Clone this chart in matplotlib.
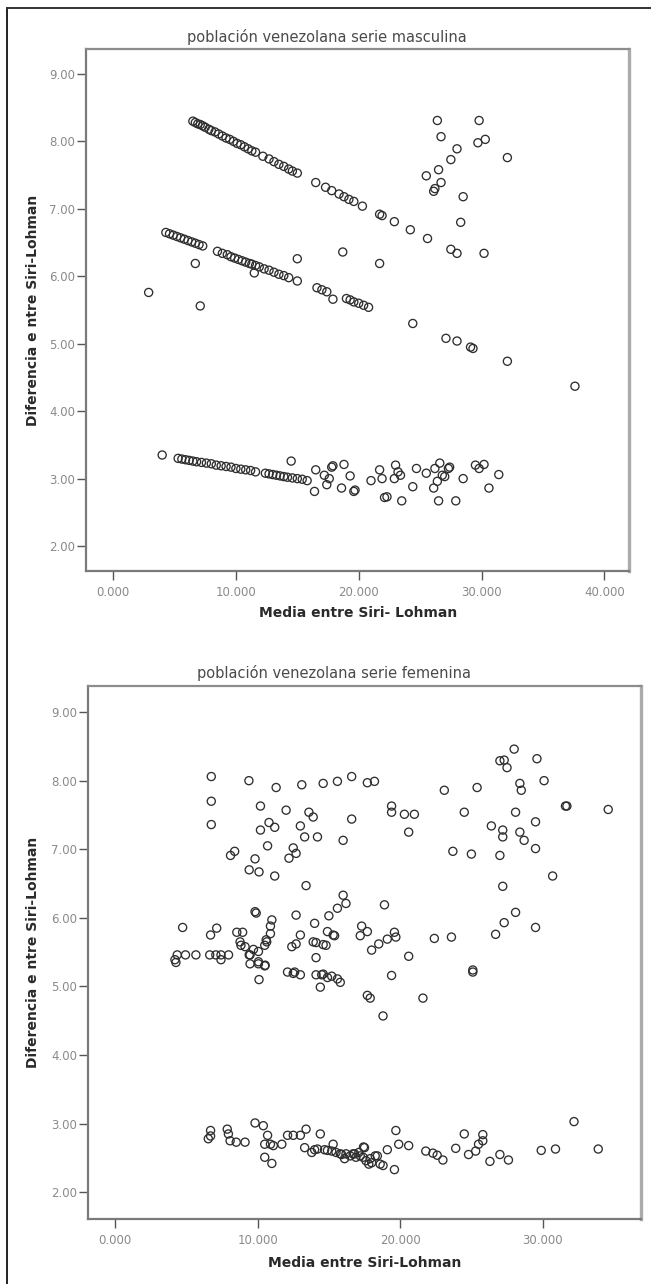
import matplotlib
matplotlib.use("Agg")
import matplotlib.pyplot as plt
from matplotlib.lines import Line2D
from matplotlib.ticker import FormatStrFormatter

# ---------------- DATA : serie masculina ----------------
m_upper_x = [6.5, 6.7, 6.9, 7.1, 7.3, 7.5, 7.8, 8.0, 8.3, 8.6, 8.9, 9.2, 9.5, 9.8, 10.1, 10.4,
             10.7, 11.0, 11.3, 11.6, 12.2, 12.7, 13.1, 13.5, 13.9, 14.3, 14.6, 15.0, 16.5, 17.3,
             17.8, 18.4, 18.8, 19.2, 19.6, 20.3, 21.7, 21.9, 22.9, 24.2, 25.6]
m_upper_y = [8.30, 8.28, 8.26, 8.25, 8.23, 8.21, 8.18, 8.16, 8.14, 8.11, 8.08, 8.05, 8.03, 8.00,
             7.97, 7.95, 7.92, 7.89, 7.86, 7.84, 7.78, 7.74, 7.70, 7.66, 7.63, 7.59, 7.56, 7.53,
             7.39, 7.32, 7.27, 7.22, 7.18, 7.14, 7.11, 7.04, 6.92, 6.90, 6.81, 6.69, 6.56]

m_mid_x = [4.3, 4.6, 4.9, 5.2, 5.5, 5.8, 6.1, 6.4, 6.7, 7.0, 7.3, 8.5, 8.9, 9.3, 9.6, 9.9, 10.2,
           10.5, 10.8, 11.1, 11.3, 11.6, 11.9, 12.3, 12.7, 13.1, 13.5, 13.9, 14.3, 15.0, 16.6,
           17.0, 17.4, 17.9, 19.0, 19.3, 19.6, 20.0, 20.4, 20.8, 24.4, 27.1, 28.0, 29.1, 29.3,
           32.1, 37.6]
m_mid_y = [6.65, 6.63, 6.61, 6.59, 6.57, 6.55, 6.53, 6.51, 6.49, 6.47, 6.45, 6.37, 6.34, 6.32,
           6.29, 6.27, 6.25, 6.23, 6.21, 6.19, 6.18, 6.16, 6.14, 6.11, 6.09, 6.06, 6.03, 6.01,
           5.98, 5.93, 5.83, 5.80, 5.77, 5.66, 5.67, 5.65, 5.62, 5.60, 5.57, 5.54, 5.30, 5.08,
           5.04, 4.95, 4.93, 4.74, 4.37]

m_low_x = [4.0, 5.3, 5.6, 5.9, 6.2, 6.5, 6.8, 7.2, 7.6, 8.0, 8.4, 8.8, 9.2, 9.6, 10.0, 10.4,
           10.8, 11.2, 11.6, 12.4, 12.7, 13.0, 13.3, 13.6, 13.9, 14.2, 14.6, 15.0, 15.4, 15.8]
m_low_y = [3.35, 3.30, 3.29, 3.28, 3.27, 3.26, 3.25, 3.24, 3.23, 3.22, 3.20, 3.19, 3.18, 3.17,
           3.15, 3.14, 3.13, 3.12, 3.10, 3.08, 3.07, 3.06, 3.05, 3.04, 3.03, 3.02, 3.01, 3.00,
           2.99, 2.97]

m_scatter_x = [2.9, 6.7, 7.1, 15.0, 18.7, 21.7, 26.4, 29.8, 26.7, 29.7, 30.3, 28.0, 27.5, 32.1,
               25.5, 26.5, 26.7, 26.1, 26.2, 28.5, 28.3, 27.5, 28.0, 30.2, 11.5,
               14.5, 16.5, 16.4, 17.2, 17.6, 17.4, 17.8, 17.9, 18.8, 18.6, 19.3, 19.6, 19.7,
               21.0, 21.7, 21.9, 22.1, 22.3, 22.9, 23.0, 23.2, 23.4, 23.5, 24.4, 24.7, 25.5,
               26.1, 26.2, 26.5, 26.6, 26.4, 26.8, 27.0, 27.3, 27.4, 27.9, 28.5, 29.5, 29.8,
               30.2, 30.6, 31.4]
m_scatter_y = [5.76, 6.19, 5.56, 6.26, 6.36, 6.19, 8.31, 8.31, 8.07, 7.98, 8.03, 7.89, 7.73, 7.76,
               7.49, 7.58, 7.39, 7.26, 7.30, 7.18, 6.80, 6.40, 6.34, 6.34, 6.05,
               3.26, 3.13, 2.81, 3.05, 3.00, 2.91, 3.17, 3.19, 3.21, 2.86, 3.04, 2.81, 2.83,
               2.97, 3.13, 3.00, 2.72, 2.73, 3.00, 3.20, 3.10, 3.05, 2.67, 2.88, 3.15, 3.08,
               2.86, 3.15, 2.67, 3.23, 2.96, 3.05, 3.03, 3.15, 3.17, 2.67, 3.00, 3.20, 3.15,
               3.21, 2.86, 3.06]

# ---------------- DATA : serie femenina ----------------
f_upper_x = [6.75, 6.75, 6.75, 9.39, 11.3, 13.1, 14.6, 15.6, 16.6, 17.7, 18.2, 10.2, 12.0, 13.6,
             13.9, 16.6, 10.8, 10.2, 11.2, 13.0, 13.3, 14.2, 16.0, 10.7, 12.5, 12.7, 12.2, 8.10,
             8.39, 9.82, 9.41, 10.1, 11.2, 13.4, 19.4, 19.4, 20.3, 21.0, 20.6, 23.1, 25.4, 24.5,
             23.7, 25.0, 27.0, 27.3, 27.5, 28.0, 29.6, 28.4, 28.5, 30.1, 31.6, 31.7, 34.6, 28.1,
             26.4, 27.2, 27.2, 28.4, 28.7, 29.5, 29.5, 27.0, 30.7, 27.2]
f_upper_y = [8.06, 7.70, 7.36, 8.00, 7.90, 7.94, 7.96, 7.99, 8.06, 7.97, 7.99, 7.63, 7.57, 7.54,
             7.47, 7.44, 7.39, 7.28, 7.32, 7.34, 7.18, 7.18, 7.13, 7.05, 7.02, 6.94, 6.87, 6.91,
             6.97, 6.86, 6.70, 6.67, 6.61, 6.47, 7.63, 7.54, 7.51, 7.51, 7.25, 7.86, 7.90, 7.54,
             6.97, 6.93, 8.29, 8.30, 8.19, 8.46, 8.32, 7.96, 7.86, 8.00, 7.63, 7.63, 7.58, 7.54,
             7.34, 7.28, 7.18, 7.25, 7.13, 7.40, 7.01, 6.91, 6.61, 6.46]

f_mid_x = [28.1, 27.3, 29.5, 26.7, 18.9, 16.0, 16.2, 15.6, 15.0, 12.7, 14.0, 9.82, 9.9, 11.0,
           10.9, 10.9, 10.6, 10.5, 4.74, 7.13, 6.70, 8.54, 8.95, 8.83, 9.41, 9.71, 13.0, 12.7,
           14.1, 14.8, 14.9, 15.4, 17.2, 17.3, 17.7, 18.0, 18.5, 19.1, 19.6, 19.7, 22.4, 23.6,
           8.77, 9.12, 10.64, 10.06, 15.3, 12.4, 13.9, 14.6]
f_mid_y = [6.08, 5.93, 5.86, 5.76, 6.19, 6.33, 6.21, 6.14, 6.03, 6.04, 5.92, 6.09, 6.07, 5.97,
           5.88, 5.77, 5.68, 5.60, 5.86, 5.85, 5.75, 5.79, 5.79, 5.60, 5.46, 5.54, 5.75, 5.62,
           5.64, 5.60, 5.80, 5.74, 5.74, 5.88, 5.80, 5.53, 5.62, 5.69, 5.79, 5.72, 5.70, 5.72,
           5.65, 5.58, 5.65, 5.51, 5.75, 5.58, 5.65, 5.61]

f_low5_x = [4.36, 4.94, 5.67, 6.64, 7.07, 7.43, 7.96, 4.2, 7.43, 14.1, 20.6, 4.27, 9.47, 10.06,
            10.5, 10.1, 12.1, 12.5, 13.0, 14.1, 14.6, 14.9, 15.2, 15.6, 15.8, 14.4, 17.7, 17.9,
            18.8, 19.4, 21.6, 25.1, 25.1, 9.47, 10.06, 10.53, 12.6, 14.5]
f_low5_y = [5.46, 5.46, 5.46, 5.46, 5.46, 5.46, 5.46, 5.39, 5.39, 5.42, 5.44, 5.35, 5.33, 5.33,
            5.30, 5.10, 5.21, 5.19, 5.17, 5.17, 5.18, 5.13, 5.15, 5.11, 5.06, 4.99, 4.87, 4.83,
            4.57, 5.16, 4.83, 5.21, 5.24, 5.46, 5.36, 5.31, 5.21, 5.17]

f_band_x = [6.54, 6.7, 6.7, 7.87, 7.95, 8.07, 8.5, 9.12, 9.82, 10.4, 10.7, 10.5, 10.9, 11.1,
            10.5, 11.0, 11.7, 12.1, 12.5, 13.0, 13.4, 13.3, 13.8, 14.2, 14.4, 14.9, 15.3, 15.5,
            15.8, 16.1, 16.2, 16.5, 16.8, 16.9, 17.1, 17.4, 17.5, 17.6, 17.8, 18.0, 18.4, 18.8,
            19.1, 19.6, 19.7, 19.9, 20.6, 21.8, 22.3, 22.6, 23.0, 23.9, 24.5, 24.8, 25.3, 25.5,
            25.8, 25.8, 26.3, 27.0, 27.6, 29.9, 30.9, 32.2, 33.9, 15.9, 16.7, 17.2, 17.43,
            17.9, 18.25, 18.6, 14.0, 14.7, 15.2]
f_band_y = [2.78, 2.90, 2.82, 2.92, 2.85, 2.75, 2.73, 2.73, 3.01, 2.97, 2.83, 2.70, 2.70, 2.68,
            2.51, 2.42, 2.70, 2.83, 2.83, 2.83, 2.92, 2.65, 2.58, 2.63, 2.85, 2.61, 2.70, 2.58,
            2.56, 2.49, 2.56, 2.53, 2.56, 2.51, 2.58, 2.51, 2.65, 2.46, 2.41, 2.43, 2.53, 2.39,
            2.62, 2.33, 2.90, 2.70, 2.68, 2.60, 2.57, 2.54, 2.47, 2.64, 2.85, 2.55, 2.60, 2.70,
            2.75, 2.84, 2.45, 2.55, 2.47, 2.61, 2.63, 3.03, 2.63, 2.55, 2.56, 2.53, 2.66,
            2.49, 2.53, 2.41, 2.62, 2.62, 2.60]

titles = ["población venezolana serie masculina", "población venezolana serie femenina"]
xlabels = ["Media entre Siri- Lohman", "Media entre Siri-Lohman"]
ylabel = "Diferencia e ntre Siri-Lohman"
y_ticks = [2, 3, 4, 5, 6, 7, 8, 9]
x_ticks_top = [0, 10, 20, 30, 40]
x_ticks_bottom = [0, 10, 20, 30]

# ---------------- LAYOUT ----------------
W, H = 651, 1284
fig = plt.figure(figsize=(W / 100, H / 100), dpi=100)
fig.patch.set_facecolor("white")


def fx(px):
    return px / W


def fy(py):
    return 1 - py / H


def make_axes(l, t, r, b):
    return fig.add_axes([fx(l), fy(b), fx(r) - fx(l), fy(t) - fy(b)])


ax1 = make_axes(86, 49, 629, 571)
ax2 = make_axes(88, 686, 641, 1219)

series_top = [(m_upper_x, m_upper_y), (m_mid_x, m_mid_y), (m_low_x, m_low_y),
              (m_scatter_x, m_scatter_y)]
series_bot = [(f_upper_x, f_upper_y), (f_mid_x, f_mid_y), (f_low5_x, f_low5_y),
              (f_band_x, f_band_y)]

for ax, series, xt, xlim, ylim in [
        (ax1, series_top, x_ticks_top, (-2.2, 42.0), (1.63, 9.37)),
        (ax2, series_bot, x_ticks_bottom, (-1.9, 36.9), (1.61, 9.38))]:
    for xs, ys in series:
        ax.scatter(xs, ys, s=34, facecolors="none", edgecolors="#2e2e2e",
                   linewidths=0.95, zorder=3)
    ax.set_xlim(*xlim)
    ax.set_ylim(*ylim)
    ax.set_xticks(xt)
    ax.set_yticks(y_ticks)
    ax.xaxis.set_major_formatter(FormatStrFormatter("%.3f"))
    ax.yaxis.set_major_formatter(FormatStrFormatter("%.2f"))
    ax.tick_params(axis="both", direction="out", length=6.5, width=1.0,
                   color="#555555", labelcolor="#8a8a8a", labelsize=8.5)
    ax.tick_params(axis="y", pad=1.5)
    ax.tick_params(axis="x", pad=4)
    ax.spines["left"].set_color("#7a7a7a")
    ax.spines["bottom"].set_color("#7a7a7a")
    ax.spines["top"].set_color("#8c8c8c")
    ax.spines["right"].set_color("#ababab")
    ax.spines["left"].set_linewidth(1.6)
    ax.spines["bottom"].set_linewidth(1.6)
    ax.spines["top"].set_linewidth(1.6)
    ax.spines["right"].set_linewidth(2.4)
    ax.set_facecolor("white")

# titles
fig.text(fx(327), fy(37), titles[0], ha="center", va="center", fontsize=10.5,
         color="#4a4a4a", family="DejaVu Sans")
fig.text(fx(334), fy(673), titles[1], ha="center", va="center", fontsize=10.5,
         color="#4a4a4a", family="DejaVu Sans")

# x labels
fig.text(fx(358), fy(613), xlabels[0], ha="center", va="center", fontsize=10,
         fontweight="bold", color="#2a2a2a", family="DejaVu Sans")
fig.text(fx(365), fy(1263), xlabels[1], ha="center", va="center", fontsize=10,
         fontweight="bold", color="#2a2a2a", family="DejaVu Sans")

# y labels
fig.text(fx(33), fy(310), ylabel, ha="center", va="center", rotation=90, fontsize=10,
         fontweight="bold", color="#2a2a2a", family="DejaVu Sans")
fig.text(fx(33), fy(952), ylabel, ha="center", va="center", rotation=90, fontsize=10,
         fontweight="bold", color="#2a2a2a", family="DejaVu Sans")

# outer border: left and top lines only
fig.add_artist(Line2D([fx(7), fx(7)], [fy(8), 0.0], transform=fig.transFigure,
                      color="#222222", linewidth=1.4))
fig.add_artist(Line2D([fx(7), 1.0], [fy(8), fy(8)], transform=fig.transFigure,
                      color="#333333", linewidth=1.4))

fig.savefig("out.png", dpi=100, facecolor="white")
